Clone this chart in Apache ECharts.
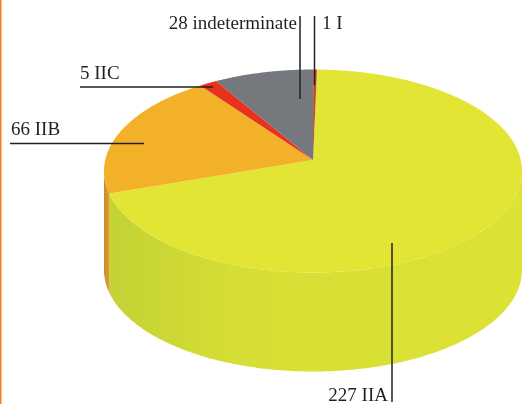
<!DOCTYPE html>
<html>
<head>
<meta charset="utf-8">
<style>
  html, body { margin: 0; padding: 0; background: #fff; }
  #chart { width: 522px; height: 404px; }
</style>
<script src="https://cdn.jsdelivr.net/npm/echarts@6/dist/echarts.min.js"></script>
</head>
<body>
<div id="chart"></div>
<script>
// clockwise from 12 o'clock
var categories = ['IIA', 'IIB', 'IIC', 'indeterminate', 'I'];
var counts = [227, 66, 5, 28, 1];
var topColors = ['#e2e533', '#f2b128', '#e8321e', '#75787c', '#c0452a'];
var wallColors = [
  ['#c4d235', '#d6de35', '#dde335'],
  ['#c98a22', '#d0922a', '#dd9c28'],
  ['#c92a1a', '#c92a1a', '#c92a1a'],
  ['#5f6266', '#5f6266', '#5f6266'],
  ['#a33a22', '#a33a22', '#a33a22']
];

var total = counts.reduce(function (a, b) { return a + b; }, 0);

// pie geometry
var cx = 313, cy = 171, rx = 209, ry = 101.5, depth = 99;
var tilt = 0.109; // how far the centre is pushed back by perspective
var startDeg = 1.2;

// a point on the rim, th in degrees clockwise from the top
function rim(th) {
  var r = th * Math.PI / 180;
  var w = 1 + tilt * Math.cos(r);
  var u = Math.sin(r) * Math.sqrt(1 - tilt * tilt) / w;
  var v = (Math.cos(r) + tilt) / w;
  return [cx + rx * u, cy - ry * v];
}

function renderSlice(params, api) {
  var i = params.dataIndex;
  var before = 0;
  for (var k = 0; k < i; k++) before += counts[k];
  var a0 = startDeg + before / total * 360;
  var a1 = a0 + api.value(0) / total * 360;
  var children = [];

  // outer wall, only the part facing the viewer
  var edge = Math.acos(-tilt) * 180 / Math.PI;
  var w0 = Math.max(a0, edge), w1 = Math.min(a1, 360 - edge);
  if (w1 > w0) {
    var upper = [], lower = [];
    for (var t = w0; t < w1; t += 0.5) upper.push(rim(t));
    upper.push(rim(w1));
    upper.forEach(function (p) { lower.unshift([p[0], p[1] + depth]); });
    children.push({
      type: 'polygon',
      shape: { points: upper.concat(lower) },
      style: {
        fill: new echarts.graphic.LinearGradient(0, 0, 1, 0, [
          { offset: 0, color: wallColors[i][0] },
          { offset: 0.3, color: wallColors[i][1] },
          { offset: 1, color: wallColors[i][2] }
        ])
      }
    });
  }

  // top face
  var pts = [[cx, cy - ry * tilt]];
  for (var s = a0; s < a1; s += 0.5) pts.push(rim(s));
  pts.push(rim(a1));
  children.push({ type: 'polygon', shape: { points: pts }, style: { fill: topColors[i] } });

  return { type: 'group', children: children };
}

// leader lines and label anchors, same order as categories
var leaders = [
  { line: [392, 243, 392, 402], text: [388, 396], align: 'right' },
  { line: [10, 143.5, 144, 143.5], text: [11, 130], align: 'left' },
  { line: [80, 87, 213, 87], text: [80, 74], align: 'left' },
  { line: [300, 16, 300, 99], text: [297, 24], align: 'right' },
  { line: [314.5, 16, 314.5, 85], text: [322, 24], align: 'left' }
];

var graphics = [{
  type: 'rect',
  shape: { x: 0, y: 0, width: 1.5, height: 404 },
  style: { fill: '#f47b2a' }
}];
leaders.forEach(function (l, i) {
  graphics.push({
    type: 'line',
    z: 10,
    shape: { x1: l.line[0], y1: l.line[1], x2: l.line[2], y2: l.line[3] },
    style: { stroke: '#222021', lineWidth: 1.5 }
  });
  graphics.push({
    type: 'text',
    z: 10,
    x: l.text[0],
    y: l.text[1],
    style: {
      text: counts[i] + ' ' + categories[i],
      font: '19px "Liberation Serif"',
      fill: '#231f20',
      align: l.align,
      verticalAlign: 'middle'
    }
  });
});

var chart = echarts.init(document.getElementById('chart'), null, { renderer: 'canvas' });
chart.setOption({
  animation: false,
  graphic: graphics,
  series: [{
    type: 'custom',
    coordinateSystem: 'none',
    renderItem: renderSlice,
    data: counts.map(function (c) { return [c]; })
  }]
});
</script>
</body>
</html>
